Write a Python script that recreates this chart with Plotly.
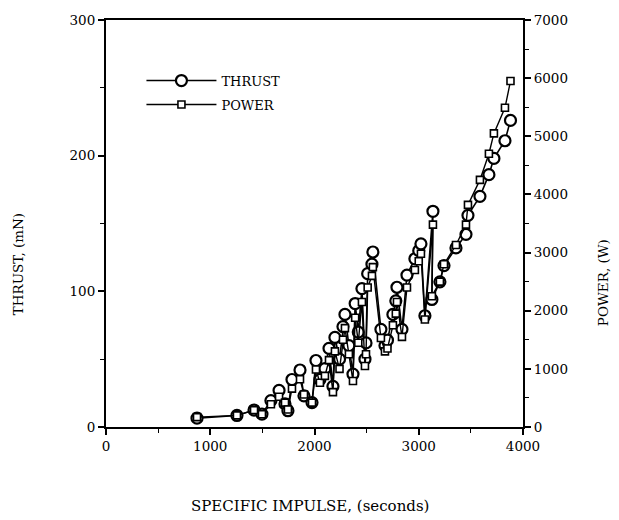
import plotly.graph_objects as go

# Specific impulse (s) with the measured thrust (mN) and input power (W) at each point
isp = [873, 1256, 1420, 1496, 1582, 1660, 1717, 1745, 1784, 1861, 1899, 1976,
       2014, 2052, 2100, 2139, 2177, 2196, 2240, 2273, 2292, 2330, 2369, 2390,
       2420, 2455, 2484, 2494, 2510, 2551, 2560, 2637, 2676, 2700, 2752, 2780,
       2791, 2839, 2887, 2963, 3000, 3021, 3059, 3136, 3126, 3203, 3242, 3357,
       3453, 3472, 3587, 3673, 3721, 3827, 3880]
thrust = [6.5, 8.5, 12.5, 9.5, 19.5, 27, 17, 12, 35, 42, 23, 18,
          49, 35, 43, 58, 30, 66, 50, 74, 83, 60, 39, 91,
          70, 102, 50, 62, 113, 120, 129, 72, 60, 64, 83, 93,
          103, 72, 112, 124, 130, 135, 82, 159, 94, 107, 119, 132,
          142, 156, 170, 186, 198, 211, 226]
power = [170, 200, 290, 220, 390, 520, 420, 300, 660, 820, 560, 420,
         990, 760, 880, 1150, 600, 1300, 1000, 1500, 1700, 1250, 790, 1880,
         1450, 2150, 1050, 1250, 2400, 2600, 2750, 1530, 1300, 1350, 1750, 1950,
         2150, 1550, 2400, 2700, 2850, 2980, 1850, 3480, 2250, 2500, 2800, 3130,
         3480, 3820, 4250, 4700, 5050, 5490, 5950]

x_ticks = [0, 1000, 2000, 3000, 4000]
thrust_ticks = [0, 100, 200, 300]
power_ticks = [0, 1000, 2000, 3000, 4000, 5000, 6000, 7000]

FONT = "DejaVu Serif"
INK = "black"

fig = go.Figure()

fig.add_trace(go.Scatter(
    x=isp, y=thrust, name="THRUST", mode="lines+markers",
    legendgroup="a",
    line=dict(color=INK, width=1.6),
    marker=dict(symbol="circle", size=11, color="white",
                line=dict(color=INK, width=2.2)),
    yaxis="y"))

fig.add_trace(go.Scatter(
    x=isp, y=power, name="POWER", mode="lines+markers",
    legendgroup="b",
    line=dict(color=INK, width=1.4),
    marker=dict(symbol="square", size=7, color="white",
                line=dict(color=INK, width=1.6)),
    yaxis="y2"))

axis_common = dict(
    showline=True, linecolor=INK, linewidth=2,
    ticks="outside", ticklen=6, tickwidth=1.5, tickcolor=INK,
    showgrid=False, zeroline=False,
    tickfont=dict(family=FONT, size=13.5, color=INK),
)

fig.update_layout(
    width=619, height=520,
    margin=dict(l=106, r=96, t=15, b=93),
    paper_bgcolor="white", plot_bgcolor="white",
    font=dict(family=FONT, color=INK),
    xaxis=dict(range=[0, 4000], tickvals=x_ticks, mirror=True,
               minor=dict(ticks="outside", dtick=500, ticklen=4,
                          tickcolor=INK, tickwidth=1.2),
               **axis_common),
    yaxis=dict(range=[0, 300], tickvals=thrust_ticks,
               minor=dict(ticks="outside", dtick=50, ticklen=4,
                          tickcolor=INK, tickwidth=1.2),
               **axis_common),
    yaxis2=dict(range=[0, 7000], tickvals=power_ticks, overlaying="y",
                side="right",
                minor=dict(ticks="outside", dtick=500, ticklen=4,
                           tickcolor=INK, tickwidth=1.2),
                **axis_common),
    showlegend=True,
    legend=dict(x=0.085, y=0.888, xanchor="left", yanchor="top",
                bgcolor="rgba(0,0,0,0)", traceorder="grouped",
                tracegroupgap=4, itemwidth=70,
                font=dict(family=FONT, size=13, color=INK)),
)

# Axis titles
fig.add_annotation(text="SPECIFIC IMPULSE, (seconds)", xref="paper", yref="paper",
                   x=0.49, y=-0.195, showarrow=False, yanchor="middle",
                   font=dict(family=FONT, size=15, color=INK))
fig.add_annotation(text="THRUST, (mN)", xref="paper", yref="paper",
                   x=-0.235, y=0.40, showarrow=False, textangle=-90,
                   font=dict(family=FONT, size=13.5, color=INK))
fig.add_annotation(text="POWER, (W)", xref="paper", yref="paper",
                   x=1.215, y=0.355, showarrow=False, textangle=-90,
                   font=dict(family=FONT, size=13.5, color=INK))

fig.write_html("out.html")
